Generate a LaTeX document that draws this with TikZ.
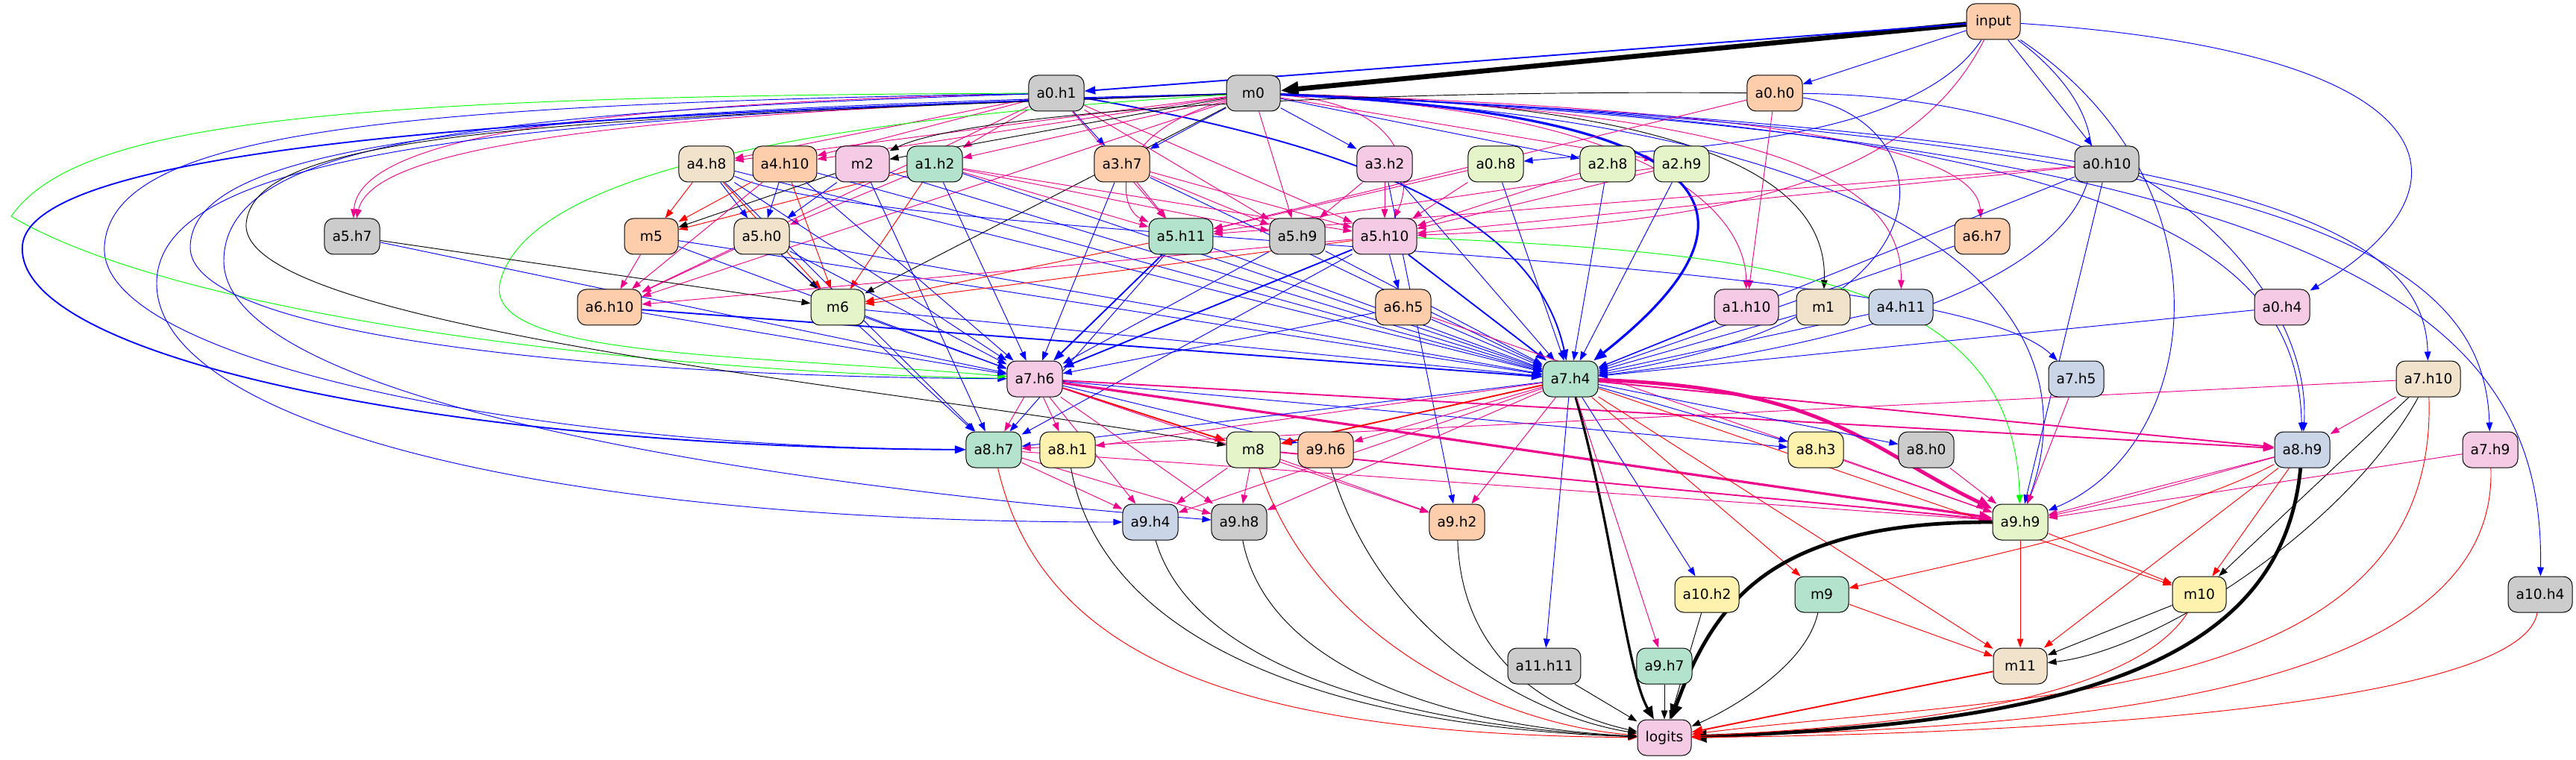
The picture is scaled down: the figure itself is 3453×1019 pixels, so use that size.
\documentclass[tikz,border=0pt]{standalone}
\usepackage{fontspec}
\setmainfont{DejaVu Sans}
\usetikzlibrary{arrows.meta}
\definecolor{c1}{HTML}{B3E2CD}
\definecolor{c2}{HTML}{FDCDAC}
\definecolor{c3}{HTML}{CBD5E8}
\definecolor{c4}{HTML}{F4CAE4}
\definecolor{c5}{HTML}{E6F5C9}
\definecolor{c6}{HTML}{FFF2AE}
\definecolor{c7}{HTML}{F1E2CC}
\definecolor{c8}{HTML}{CCCCCC}
\pgfdeclarelayer{bg}
\pgfsetlayers{bg,main}
\newcommand\edg[3]{\draw[#1] (#2) -- (#3);}
\begin{document}
\begin{tikzpicture}[x=0.75pt,y=-0.75pt,
  nd/.style={draw=black,line width=0.75pt,rounded corners=9pt,minimum width=54pt,minimum height=36pt,inner xsep=7.92pt,inner ysep=0pt,font=\fontsize{14pt}{16pt}\selectfont},
  e/.style={line width=0.7pt,-{Triangle[length=9pt,width=6.5pt]}},
  eb/.style={e,draw=blue},
  er/.style={e,draw=red},
  em/.style={e,draw=magenta},
  ek/.style={e,draw=black},
  eg/.style={e,draw=green},
  w2/.style={line width=1.4pt,-{Triangle[length=11pt,width=8pt]}},
  w3/.style={line width=2.4pt,-{Triangle[length=13pt,width=10pt]}},
  w4/.style={line width=3.6pt,-{Triangle[length=15pt,width=12pt]}},
  w5/.style={line width=5pt,-{Triangle[length=18pt,width=14pt]}}]
\useasboundingbox (0,0) rectangle (3453,1019);
% nodes
\node[nd,fill=c2] (input) at (2672,29) {input};
\node[nd,fill=c8] (a0h1) at (1416,125) {a0.h1};
\node[nd,fill=c8] (m0) at (1680,125) {m0};
\node[nd,fill=c2] (a0h0) at (2379,125) {a0.h0};
\node[nd,fill=c7] (a4h8) at (947,220) {a4.h8};
\node[nd,fill=c2] (a4h10) at (1052,220) {a4.h10};
\node[nd,fill=c4] (m2) at (1156,220) {m2};
\node[nd,fill=c1] (a1h2) at (1253,220) {a1.h2};
\node[nd,fill=c2] (a3h7) at (1504,220) {a3.h7};
\node[nd,fill=c4] (a3h2) at (1856,220) {a3.h2};
\node[nd,fill=c5] (a0h8) at (2005,220) {a0.h8};
\node[nd,fill=c5] (a2h8) at (2155,220) {a2.h8};
\node[nd,fill=c5] (a2h9) at (2254,220) {a2.h9};
\node[nd,fill=c8] (a0h10) at (2824,220) {a0.h10};
\node[nd,fill=c8] (a5h7) at (472,317) {a5.h7};
\node[nd,fill=c2] (m5) at (873,317) {m5};
\node[nd,fill=c7] (a5h0) at (1021,317) {a5.h0};
\node[nd,fill=c1] (a5h11) at (1583,317) {a5.h11};
\node[nd,fill=c8] (a5h9) at (1739,317) {a5.h9};
\node[nd,fill=c4] (a5h10) at (1856,317) {a5.h10};
\node[nd,fill=c2] (a6h7) at (2657,317) {a6.h7};
\node[nd,fill=c2] (a6h10) at (817,412) {a6.h10};
\node[nd,fill=c5] (m6) at (1123,412) {m6};
\node[nd,fill=c2] (a6h5) at (1881,412) {a6.h5};
\node[nd,fill=c4] (a1h10) at (2341,412) {a1.h10};
\node[nd,fill=c7] (m1) at (2444,412) {m1};
\node[nd,fill=c3] (a4h11) at (2548,412) {a4.h11};
\node[nd,fill=c4] (a0h4) at (3059,412) {a0.h4};
\node[nd,fill=c4] (a7h6) at (1387,508) {a7.h6};
\node[nd,fill=c1] (a7h4) at (2105,508) {a7.h4};
\node[nd,fill=c3] (a7h5) at (2783,508) {a7.h5};
\node[nd,fill=c7] (a7h10) at (3255,508) {a7.h10};
\node[nd,fill=c1] (a8h7) at (1332,603) {a8.h7};
\node[nd,fill=c6] (a8h1) at (1431,603) {a8.h1};
\node[nd,fill=c5] (m8) at (1680,603) {m8};
\node[nd,fill=c2] (a9h6) at (1777,603) {a9.h6};
\node[nd,fill=c6] (a8h3) at (2434,603) {a8.h3};
\node[nd,fill=c8] (a8h0) at (2582,603) {a8.h0};
\node[nd,fill=c3] (a8h9) at (3086,603) {a8.h9};
\node[nd,fill=c4] (a7h9) at (3338,603) {a7.h9};
\node[nd,fill=c3] (a9h4) at (1542,700) {a9.h4};
\node[nd,fill=c8] (a9h8) at (1661,700) {a9.h8};
\node[nd,fill=c2] (a9h2) at (1953,700) {a9.h2};
\node[nd,fill=c5] (a9h9) at (2708,700) {a9.h9};
\node[nd,fill=c6] (a10h2) at (2288,797) {a10.h2};
\node[nd,fill=c1] (m9) at (2442,797) {m9};
\node[nd,fill=c6] (m10) at (2948,797) {m10};
\node[nd,fill=c8] (a10h4) at (3405,797) {a10.h4};
\node[nd,fill=c8] (a11h11) at (2070,893) {a11.h11};
\node[nd,fill=c1] (a9h7) at (2231,893) {a9.h7};
\node[nd,fill=c7] (m11) at (2708,893) {m11};
\node[nd,fill=c4] (logits) at (2231,989) {logits};
\begin{pgfonlayer}{bg}
% input
\edg{ek,w5}{input}{m0}
\edg{eb,w2}{input}{a0h1}
\edg{eb}{input}{a0h0}
\edg{eb}{input}{a0h10}
\draw[eb] (input) .. controls (2560,200) and (2200,200) .. (a0h8);
\draw[em] (input) .. controls (2560,250) and (2300,300) .. (a5h10);
\draw[eb] (input) .. controls (3290,70) and (3330,250) .. (a0h4);
\draw[eb] (input) .. controls (2900,200) and (2850,420) .. (a7h4);
\draw[eb] (input) .. controls (3000,250) and (2950,600) .. (a9h9);
% a0.h1
\edg{em}{a0h1}{a1h2}
\edg{eb}{a0h1}{a3h7}
\edg{em}{a0h1}{a4h8}
\edg{em}{a0h1}{a4h10}
\edg{em}{a0h1}{a5h11}
\edg{em}{a0h1}{a5h9}
\edg{em}{a0h1}{a5h10}
\edg{em}{a0h1}{a6h10}
\draw[em] (a0h1) .. controls (700,140) and (480,200) .. (a5h7);
\draw[eb,w2] (a0h1) .. controls (1850,200) and (2060,300) .. (a7h4);
\draw[eb] (a0h1) .. controls (500,140) and (150,180) .. (140,330) .. controls (130,480) and (700,600) .. (a8h7);
\draw[eg] (a0h1) .. controls (400,128) and (100,170) .. (15,290) .. controls (250,430) and (900,500) .. (a7h6);
\draw[eb] (a0h1) .. controls (600,150) and (300,200) .. (300,350) .. controls (300,520) and (900,640) .. (a9h8);
% m0
\edg{ek}{m0}{m2}
\edg{ek}{m0}{m6}
\edg{em}{m0}{a1h2}
\edg{eb}{m0}{a3h7}
\edg{eb}{m0}{a3h2}
\edg{eb}{m0}{a2h8}
\edg{em}{m0}{a2h9}
\edg{em}{m0}{a4h8}
\edg{em}{m0}{a4h10}
\edg{em}{m0}{a5h9}
\edg{em}{m0}{a6h10}
\draw[ek] (m0) .. controls (2300,140) and (2450,250) .. (m1);
\draw[em] (m0) .. controls (2250,150) and (2340,300) .. (a1h10);
\draw[em] (m0) .. controls (2400,150) and (2550,250) .. (a4h11);
\draw[em] (m0) .. controls (2500,150) and (2650,220) .. (a6h7);
\draw[em] (m0) .. controls (1480,180) and (1500,280) .. (a5h11);
\draw[em] (m0) .. controls (1900,140) and (1890,250) .. (a5h10);
\draw[em] (m0) .. controls (800,150) and (500,200) .. (a5h7);
\draw[eb,w3] (m0) .. controls (2250,150) and (2420,260) .. (a7h4);
\draw[eb] (m0) .. controls (2900,170) and (3080,350) .. (a8h9);
\draw[eb] (m0) .. controls (2650,170) and (2800,450) .. (a9h9);
\draw[eb] (m0) .. controls (3000,180) and (3250,300) .. (a7h10);
\draw[eb] (m0) .. controls (3100,185) and (3330,350) .. (a7h9);
\draw[eb] (m0) .. controls (3200,190) and (3410,450) .. (a10h4);
\draw[eb,w2] (m0) .. controls (900,150) and (40,180) .. (30,330) .. controls (20,480) and (600,600) .. (a8h7);
\draw[eb] (m0) .. controls (700,155) and (210,200) .. (210,380) .. controls (210,560) and (700,700) .. (a9h4);
\draw[eb] (m0) .. controls (600,150) and (260,200) .. (255,330) .. controls (250,450) and (800,505) .. (a7h6);
\draw[ek] (m0) .. controls (700,160) and (340,180) .. (330,300) .. controls (320,440) and (1200,520) .. (m8);
\draw[eg] (m0) .. controls (1000,165) and (700,250) .. (670,380) .. controls (650,480) and (1000,475) .. (a7h6);
% a0.h0
\edg{em}{a0h0}{a1h10}
\draw[eb] (a0h0) .. controls (2600,160) and (2650,420) .. (a7h4);
\edg{em}{a0h0}{a5h11}
\draw[ek] (a0h0) .. controls (1800,120) and (1300,150) .. (m2);
\draw[eb] (a0h0) .. controls (2900,130) and (3100,400) .. (a8h9);
% a0.h10
\edg{em}{a0h10}{a5h10}
\edg{em}{a0h10}{a5h11}
\edg{eb}{a0h10}{a7h4}
\edg{eb}{a0h10}{a9h9}
% row 2
\edg{em}{a0h8}{a5h10}
\edg{em}{a0h8}{a5h11}
\edg{eb}{a0h8}{a7h4}
\edg{em}{a2h8}{a5h10}
\edg{eb}{a2h8}{a7h4}
\edg{em}{a2h9}{a5h10}
\edg{em}{a2h9}{a5h11}
\edg{eb}{a2h9}{a7h4}
\edg{em}{a3h2}{a5h10}
\edg{em}{a3h2}{a5h9}
\edg{eb}{a3h2}{a7h4}
\edg{eb}{a3h2}{a9h2}
\edg{em}{a3h7}{a5h11}
\edg{em}{a3h7}{a5h9}
\edg{em}{a3h7}{a5h10}
\edg{eb}{a3h7}{a7h6}
\edg{eb}{a3h7}{a7h4}
\edg{er}{a1h2}{m5}
\edg{er}{a1h2}{m6}
\edg{em}{a1h2}{a5h11}
\edg{em}{a1h2}{a5h9}
\edg{em}{a1h2}{a5h10}
\edg{em}{a1h2}{a5h0}
\edg{eb}{a1h2}{a7h4}
\edg{eb}{a1h2}{a7h6}
\edg{ek}{m2}{m5}
\edg{eb}{m2}{a5h0}
\edg{eb}{m2}{a7h4}
\edg{eb}{m2}{a8h7}
\edg{er}{a4h8}{m5}
\edg{eb}{a4h8}{a5h0}
\edg{er}{a4h8}{m6}
\edg{eb}{a4h8}{a7h4}
\edg{eb}{a4h8}{a7h6}
\edg{eb}{a4h8}{a8h7}
\draw[eb] (a4h8) .. controls (1200,330) and (2600,330) .. (a7h5);
\edg{eb}{a4h10}{a5h0}
\edg{er}{a4h10}{m5}
\edg{er}{a4h10}{m6}
\edg{em}{a4h10}{a6h10}
\edg{eb}{a4h10}{a7h4}
\edg{eb}{a4h10}{a7h6}
% row 3
\edg{ek}{a5h7}{m6}
\edg{eb}{a5h7}{a7h6}
\edg{em}{m5}{a6h10}
\edg{eb}{m5}{a7h6}
\edg{eb}{m5}{a7h4}
\edg{ek}{a5h0}{m6}
\edg{em}{a5h0}{a6h10}
\edg{eb}{a5h0}{a7h4}
\edg{eb}{a5h0}{a7h6}
\edg{eb}{a5h0}{a8h7}
\edg{er}{a5h11}{m6}
\edg{eb,w2}{a5h11}{a7h6}
\edg{eb}{a5h11}{a7h4}
\edg{eb}{a5h11}{a8h7}
\edg{eb}{a5h9}{a7h4}
\edg{eb}{a5h9}{a7h6}
\edg{er}{a5h10}{m6}
\edg{em}{a5h10}{a6h10}
\edg{eb}{a5h10}{a6h5}
\edg{eb,w2}{a5h10}{a7h4}
\edg{eb,w2}{a5h10}{a7h6}
\edg{eb}{a5h10}{a8h7}
\draw[eg] (a5h10) .. controls (2400,340) and (2700,380) .. (a9h9);
\edg{eb}{a6h7}{a7h4}
% row 4
\edg{eb,w2}{a6h10}{a7h4}
\edg{eb}{a6h10}{a7h6}
\edg{eb}{m6}{a7h4}
\edg{eb}{m6}{a7h6}
\edg{eb}{a6h5}{a7h4}
\edg{eb}{a6h5}{a7h6}
\edg{em}{a6h5}{a9h9}
\edg{eb}{a1h10}{a7h4}
\edg{eb}{m1}{a7h4}
\edg{eb}{a4h11}{a7h4}
\edg{eb}{a0h4}{a7h4}
% row 5
\edg{em}{a7h5}{a9h9}
\edg{em}{a7h6}{a8h7}
\edg{em}{a7h6}{a8h1}
\edg{er,w2}{a7h6}{m8}
\edg{em}{a7h6}{a9h4}
\edg{em}{a7h6}{a9h8}
\edg{em}{a7h6}{a9h2}
\edg{em,w3}{a7h6}{a9h9}
\edg{em,w2}{a7h6}{a8h9}
\edg{eb}{a7h6}{a8h3}
\edg{eb}{a7h6}{a9h6}
\draw[ek,w3] (a7h4) .. controls (2160,700) and (2180,900) .. (logits);
\draw[em,w4] (a7h4) .. controls (2450,520) and (2500,600) .. (a9h9);
\edg{em,w2}{a7h4}{a8h9}
\edg{eb}{a7h4}{a8h3}
\edg{eb}{a7h4}{a8h0}
\edg{eb}{a7h4}{a8h7}
\edg{em}{a7h4}{a8h1}
\edg{er,w2}{a7h4}{m8}
\edg{em}{a7h4}{a9h6}
\edg{em}{a7h4}{a9h4}
\edg{em}{a7h4}{a9h8}
\edg{em}{a7h4}{a9h2}
\edg{eb}{a7h4}{a10h2}
\edg{eb}{a7h4}{a11h11}
\edg{em}{a7h4}{a9h7}
\edg{er}{a7h4}{m9}
\edg{er}{a7h4}{m10}
\edg{er}{a7h4}{m11}
\edg{em}{a7h10}{a8h9}
\edg{ek}{a7h10}{m10}
\edg{em}{a7h10}{a8h7}
\draw[ek] (a7h10) .. controls (3150,700) and (2900,870) .. (m11);
\draw[er] (a7h10) .. controls (3270,950) and (2700,930) .. (logits);
\edg{em}{a7h9}{a9h9}
\draw[er] (a7h9) .. controls (3350,950) and (2700,975) .. (logits);
% row 6
\edg{em}{a8h7}{a9h4}
\edg{em}{a8h7}{a9h8}
\edg{em}{a8h7}{a9h9}
\draw[er] (a8h7) .. controls (1400,900) and (1700,985) .. (logits);
\draw[ek] (a8h1) .. controls (1480,870) and (1800,975) .. (logits);
\edg{em}{m8}{a9h4}
\edg{em}{m8}{a9h8}
\edg{em}{m8}{a9h2}
\edg{em,w2}{m8}{a9h9}
\draw[er] (m8) .. controls (1760,850) and (2000,970) .. (logits);
\draw[ek] (a9h6) .. controls (1850,850) and (2050,960) .. (logits);
\edg{em}{a8h3}{a9h9}
\edg{em}{a8h0}{a9h9}
\edg{em}{a8h9}{a9h9}
\draw[em] (a8h9) .. controls (2950,640) and (2850,670) .. (a9h9);
\draw[er] (a8h9) .. controls (2900,700) and (2600,760) .. (m9);
\edg{er}{a8h9}{m10}
\edg{er}{a8h9}{m11}
\draw[ek,w4] (a8h9) .. controls (3060,880) and (2800,970) .. (logits);
% row 7
\draw[ek] (a9h4) .. controls (1600,900) and (1900,975) .. (logits);
\draw[ek] (a9h8) .. controls (1700,900) and (1950,975) .. (logits);
\draw[ek] (a9h2) .. controls (1960,900) and (2100,960) .. (logits);
\draw[ek,w4] (a9h9) .. controls (2380,700) and (2300,800) .. (logits);
\edg{er}{a9h9}{m10}
\edg{er}{a9h9}{m11}
% row 8-9
\edg{ek}{a10h2}{logits}
\edg{er}{m9}{m11}
\draw[ek] (m9) .. controls (2420,900) and (2300,960) .. (logits);
\edg{ek}{m10}{m11}
\draw[er] (m10) .. controls (2850,950) and (2500,975) .. (logits);
\draw[er] (a10h4) .. controls (3380,950) and (2700,985) .. (logits);
\edg{ek}{a11h11}{logits}
\edg{ek}{a9h7}{logits}
\edg{er,w2}{m11}{logits}
\end{pgfonlayer}
\end{tikzpicture}
\end{document}
